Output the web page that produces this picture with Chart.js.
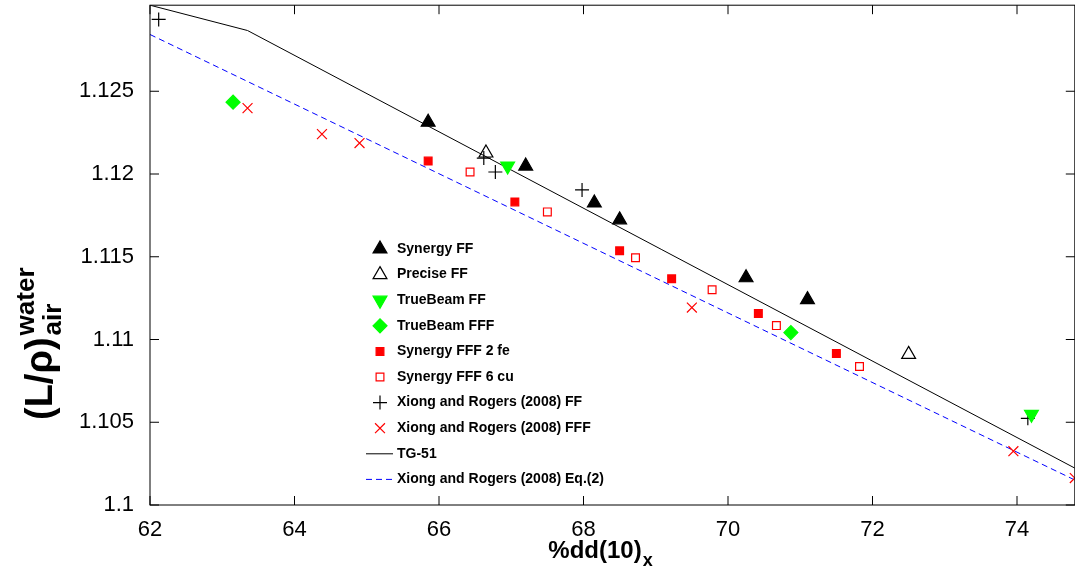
<!DOCTYPE html>
<html><head><meta charset="utf-8">
<script src="https://cdn.jsdelivr.net/npm/chart.js@4/dist/chart.umd.min.js"></script>
<style>html,body{margin:0;padding:0;background:#fff}#w{width:1075px;height:579px;overflow:hidden}#c{margin-top:-16px;display:block}</style>
</head><body><div id="w"><canvas id="c" width="1084" height="595"></canvas></div>
<script>
const xTicks=[62,64,66,68,70,72,74];
const yTicks=[1.1,1.105,1.11,1.115,1.12,1.125];
const synergyFF=[[65.85,1.12313],[67.2,1.12048],[68.15,1.11825],[68.5,1.11723],[70.25,1.11373],[71.1,1.11241]];
const preciseFF=[[66.65,1.12127],[72.5,1.1091]];
const truebeamFF=[[66.95,1.12048],[74.2,1.10548]];
const truebeamFFF=[[63.15,1.12434],[70.87,1.11042]];
const synFFF2fe=[[65.85,1.12078],[67.05,1.11831],[68.5,1.11536],[69.22,1.11367],[70.42,1.11157],[71.5,1.10916]];
const synFFF6cu=[[66.43,1.12012],[67.5,1.11771],[68.72,1.11494],[69.78,1.11301],[70.67,1.11084],[71.82,1.10837]];
const xiongFF=[[62.12,1.12934],[66.62,1.12096],[66.78,1.12012],[67.98,1.11904],[74.15,1.10524]];
const xiongFFF=[[63.35,1.12398],[64.38,1.12241],[64.9,1.12187],[69.5,1.11193],[73.95,1.10325],[74.8,1.10163]];
const tg51=[[62,1.1302],[63.35,1.12867],[74.8,1.10223]];
const xiongEq=[[62,1.12843],[74.8,1.10151]];
const P=a=>a.map(p=>({x:p[0],y:p[1]}));
function pts(label,d,style,color,fill,r,rot){return {label,data:P(d),showLine:false,pointStyle:style,pointRadius:r,pointRotation:rot||0,borderColor:color,backgroundColor:fill,pointBackgroundColor:fill,pointBorderColor:color,pointBorderWidth:1.2};}
const datasets=[
 pts('Synergy FF',synergyFF,'triangle','#000','#000',8),
 pts('Precise FF',preciseFF,'triangle','#000','rgba(0,0,0,0)',8),
 pts('TrueBeam FF',truebeamFF,'triangle','#00ff00','#00ff00',8,180),
 pts('TrueBeam FFF',truebeamFFF,'rectRot','#00ff00','#00ff00',7),
 pts('Synergy FFF 2 fe',synFFF2fe,'rect','#ff0000','#ff0000',5.5),
 pts('Synergy FFF 6 cu',synFFF6cu,'rect','#ff0000','rgba(0,0,0,0)',5.5),
 pts('Xiong and Rogers (2008) FF',xiongFF,'cross','#000','#000',7),
 pts('Xiong and Rogers (2008) FFF',xiongFFF,'crossRot','#ff0000','#ff0000',7),
 {label:'TG-51',data:P(tg51),showLine:true,borderColor:'#000',borderWidth:1,pointRadius:0,pointStyle:'line'},
 {label:'Xiong and Rogers (2008) Eq.(2)',data:P(xiongEq),showLine:true,borderColor:'#0000ff',borderWidth:1,borderDash:[6,4],pointRadius:0,pointStyle:'line'}
];
const OY=16;
const deco={id:'deco',afterDraw(ch){
 const c=ch.ctx,a=ch.chartArea,xs=ch.scales.x,ys=ch.scales.y;
 c.save();c.strokeStyle='#000';c.lineWidth=1;c.strokeRect(a.left,a.top,a.right-a.left,a.bottom-a.top);
 c.beginPath();
 xTicks.forEach(t=>{const x=xs.getPixelForValue(t);c.moveTo(x,a.bottom);c.lineTo(x,a.bottom-9);c.moveTo(x,a.top);c.lineTo(x,a.top+9);});
 yTicks.forEach(t=>{const y=ys.getPixelForValue(t);c.moveTo(a.left,y);c.lineTo(a.left+9,y);c.moveTo(a.right,y);c.lineTo(a.right-9,y);});
 c.stroke();
 c.font='bold 14px Arial, "Liberation Sans"';c.textBaseline='middle';
 const y0=249+OY;
 ch.data.datasets.forEach((d,i)=>{const y=y0+i*25.6;const x=380;
  c.save();
  if(d.showLine){c.strokeStyle=d.borderColor;c.lineWidth=1;c.setLineDash(d.borderDash||[]);c.beginPath();c.moveTo(366,y);c.lineTo(393,y);c.stroke();}
  else{c.fillStyle=d.backgroundColor;c.strokeStyle=d.borderColor;c.lineWidth=1.2;
   Chart.helpers.drawPoint(c,{pointStyle:d.pointStyle,radius:d.pointRadius,rotation:d.pointRotation,borderWidth:1.2},x,y);}
  c.restore();
  c.fillStyle='#000';c.fillText(d.label,397,y);});
 c.font='bold 24px Arial, "Liberation Sans"';c.textBaseline='alphabetic';c.textAlign='left';c.fillStyle='#000';
 const t1='%dd(10)';const w1=c.measureText(t1).width;const xt=595-w1/2;
 c.fillText(t1,xt,558+OY);c.font='bold 18px Arial';c.fillText('x',xt+w1+1,566+OY);
 c.translate(52,420+OY);c.rotate(-Math.PI/2);
 c.font='bold 38px Arial, "Liberation Sans"';const t2='(L/ρ)';const w2=c.measureText(t2).width;
 c.fillText(t2,0,0);
 c.font='bold 26px Arial';c.fillText('water',w2+2,-18);c.fillText('air',w2+2,9);
 c.restore();
}};
new Chart(document.getElementById('c'),{type:'scatter',data:{datasets},plugins:[deco],
options:{responsive:false,animation:false,layout:{padding:{left:0,right:0,top:0,bottom:0}},
plugins:{legend:{display:false},tooltip:{enabled:false}},
scales:{
 x:{type:'linear',min:62,max:74.8,afterBuildTicks:s=>{s.ticks=xTicks.map(v=>({value:v}))},
  afterFit:s=>{s.height=74},grid:{display:false},border:{display:false},
  ticks:{color:'#000',font:{size:22,family:'Arial'},padding:4,callback:v=>v}},
 y:{type:'linear',min:1.1,max:1.1302,afterBuildTicks:s=>{s.ticks=yTicks.map(v=>({value:v}))},
  afterFit:s=>{s.width=150},grid:{display:false},border:{display:false},
  ticks:{color:'#000',font:{size:22,family:'Arial'},padding:8,callback:v=>String(+v.toFixed(3))}}
}}});
</script></body></html>
